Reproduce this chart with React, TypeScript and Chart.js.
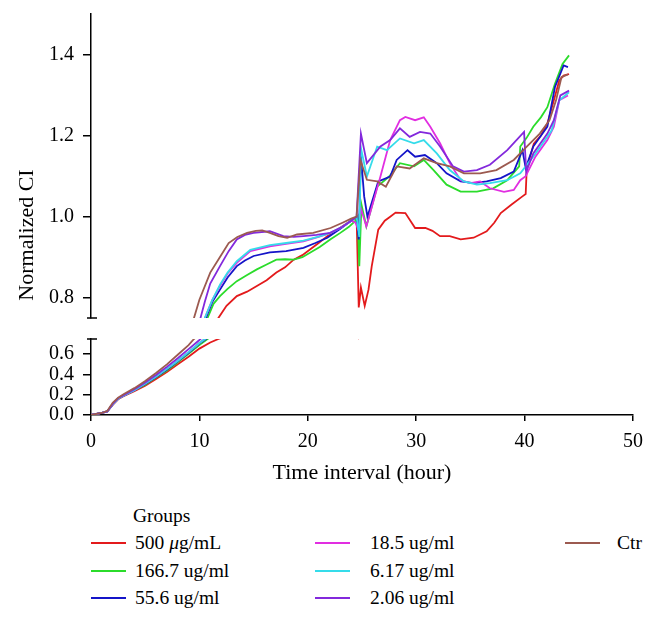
import React, { useEffect, useRef } from 'react';
import { Chart, registerables } from 'chart.js';

Chart.register(...registerables);

// ---- data (time in hours, normalized cell index) ----
const T_500 = [0, 0.5, 1, 1.5, 2, 2.5, 3, 4, 5, 6, 7, 8, 9, 10, 11, 11.75, 12.5, 13.45, 14.4, 15.3, 16.2, 17.1, 17.9, 18.7, 19.5, 20.2, 21, 21.8, 22.6, 23.3, 24, 24.5, 24.7, 24.9, 25.25, 25.6, 25.9, 26.5, 27.1, 27.6, 28.1, 29.0, 29.9, 30.85, 31.5, 32.2, 33.1, 34.1, 35.3, 36.5, 37.2, 37.8, 38.8, 39.8, 40.1, 40.2, 40.85, 41.5, 42.1, 42.7, 43.2, 43.6, 44.1];
const V_500 = [0, 0.01, 0.02, 0.035, 0.10, 0.155, 0.185, 0.235, 0.29, 0.355, 0.425, 0.50, 0.575, 0.655, 0.715, 0.75, 0.78, 0.804, 0.815, 0.829, 0.843, 0.862, 0.875, 0.894, 0.905, 0.919, 0.935, 0.952, 0.965, 0.978, 0.99, 1.0, 0.776, 0.825, 0.78, 0.82, 0.878, 0.968, 0.99, 1.0, 1.01, 1.009, 0.972, 0.972, 0.965, 0.952, 0.952, 0.944, 0.948, 0.964, 0.985, 1.009, 1.03, 1.05, 1.056, 1.12, 1.18, 1.20, 1.23, 1.287, 1.336, 1.348, 1.352];

const T_166 = [0, 0.5, 1, 1.5, 2, 2.5, 3, 4, 5, 6, 7, 8, 9, 10, 10.75, 11.3, 11.9, 12.6, 13.45, 14.4, 15.3, 16.2, 17.1, 17.9, 18.7, 19.5, 20.2, 21.1, 22.1, 23.0, 23.8, 24.4, 24.6, 24.75, 24.95, 25.4, 26.4, 27.5, 28.5, 29.8, 30.7, 31.6, 32.8, 34.1, 35.6, 37.1, 38.4, 39.5, 39.6, 40.2, 40.8, 41.5, 42.1, 42.8, 43.5, 44.1];
const V_166 = [0, 0.01, 0.02, 0.035, 0.105, 0.16, 0.19, 0.245, 0.30, 0.37, 0.44, 0.52, 0.605, 0.69, 0.75, 0.785, 0.804, 0.822, 0.841, 0.856, 0.87, 0.882, 0.894, 0.895, 0.894, 0.90, 0.911, 0.925, 0.944, 0.96, 0.975, 0.99, 1.0, 0.878, 1.03, 0.976, 1.074, 1.099, 1.132, 1.124, 1.14, 1.115, 1.079, 1.062, 1.062, 1.07, 1.09, 1.124, 1.173, 1.195, 1.222, 1.245, 1.27, 1.328, 1.377, 1.398];

const T_55 = [0, 0.5, 1, 1.5, 2, 2.5, 3, 4, 5, 6, 7, 8, 9, 10, 10.6, 11.2, 11.9, 12.6, 13.45, 14.2, 15, 16.5, 18, 19.6, 20.7, 21.8, 23, 24, 24.5, 24.7, 24.9, 25.2, 25.5, 26.5, 27.6, 28.2, 29.2, 29.9, 30.8, 31.9, 32.8, 34.1, 35.3, 36.5, 37.8, 39.0, 39.8, 40.1, 40.8, 42.1, 42.8, 43.6, 44.0];
const V_55 = [0, 0.01, 0.02, 0.035, 0.105, 0.16, 0.19, 0.245, 0.305, 0.375, 0.45, 0.53, 0.615, 0.705, 0.75, 0.79, 0.82, 0.85, 0.878, 0.892, 0.903, 0.912, 0.915, 0.923, 0.935, 0.948, 0.97, 0.99, 1.0, 0.944, 1.15, 1.05, 1.0, 1.087, 1.099, 1.14, 1.164, 1.148, 1.152, 1.132, 1.107, 1.087, 1.083, 1.087, 1.095, 1.111, 1.164, 1.12, 1.173, 1.222, 1.32, 1.373, 1.369];

const T_18 = [0, 0.5, 1, 1.5, 2, 2.5, 3, 4, 5, 6, 7, 8, 9, 10, 10.5, 11.2, 11.9, 12.6, 13.45, 14.7, 16.5, 18, 19.6, 21, 22.1, 23.2, 24, 24.4, 24.7, 24.9, 25.4, 26.7, 27.6, 28.5, 29.0, 29.9, 30.7, 31.3, 32.2, 33.1, 34.1, 35.0, 35.9, 36.8, 38.1, 39.0, 39.6, 40.1, 41.0, 42.1, 42.7, 43.2, 44.0];
const V_18 = [0, 0.01, 0.02, 0.035, 0.105, 0.16, 0.19, 0.245, 0.31, 0.38, 0.455, 0.535, 0.62, 0.71, 0.75, 0.795, 0.829, 0.86, 0.886, 0.915, 0.927, 0.933, 0.939, 0.95, 0.96, 0.975, 0.99, 0.985, 0.965, 1.02, 0.976, 1.099, 1.189, 1.238, 1.246, 1.238, 1.245, 1.222, 1.181, 1.132, 1.09, 1.083, 1.087, 1.07, 1.061, 1.066, 1.09, 1.10, 1.148, 1.189, 1.222, 1.287, 1.299];

const T_6 = [0, 0.5, 1, 1.5, 2, 2.5, 3, 4, 5, 6, 7, 8, 9, 10, 10.5, 11.2, 11.9, 12.6, 13.45, 14.7, 16.5, 18, 19.6, 21, 22.1, 23.2, 24, 24.5, 24.75, 24.9, 25.45, 26.4, 27.3, 28.5, 29.8, 30.7, 31.9, 33.1, 34.4, 35.6, 36.8, 38.4, 39.6, 40.8, 42.1, 42.5, 43.2, 44.1];
const V_6 = [0, 0.01, 0.02, 0.035, 0.105, 0.16, 0.19, 0.245, 0.31, 0.38, 0.455, 0.535, 0.62, 0.71, 0.75, 0.795, 0.832, 0.862, 0.89, 0.918, 0.93, 0.935, 0.941, 0.951, 0.96, 0.975, 0.99, 1.0, 0.95, 1.17, 1.099, 1.173, 1.164, 1.193, 1.181, 1.189, 1.156, 1.115, 1.087, 1.079, 1.083, 1.09, 1.107, 1.148, 1.197, 1.213, 1.287, 1.307];

const T_2 = [0, 0.5, 1, 1.5, 2, 2.5, 3, 4, 5, 6, 7, 8, 9, 10, 10.5, 11, 11.9, 12.7, 13.45, 14.2, 15, 16.5, 17.75, 18.7, 19.6, 20.8, 22.07, 23.2, 24, 24.5, 24.9, 25.45, 26.7, 27.6, 28.5, 29.4, 30.35, 31.3, 32.2, 33.4, 34.4, 35.6, 36.8, 38.4, 39.95, 40.15, 40.8, 42.1, 42.7, 43.3, 44.1];
const V_2 = [0, 0.01, 0.02, 0.035, 0.11, 0.165, 0.195, 0.255, 0.32, 0.395, 0.475, 0.56, 0.65, 0.74, 0.79, 0.835, 0.878, 0.915, 0.944, 0.955, 0.96, 0.964, 0.952, 0.95, 0.952, 0.955, 0.96, 0.975, 0.99, 1.0, 1.205, 1.132, 1.173, 1.189, 1.218, 1.197, 1.209, 1.205, 1.173, 1.124, 1.111, 1.115, 1.128, 1.164, 1.209, 1.111, 1.156, 1.205, 1.238, 1.299, 1.311];

const T_CTR = [0, 0.5, 1, 1.5, 2, 2.5, 3, 4, 5, 6, 7, 8, 9, 9.5, 10, 11, 12, 12.7, 13.5, 14.4, 15.2, 15.8, 16.5, 17.3, 18.1, 19, 20.5, 22.1, 23.2, 24, 24.5, 24.85, 25.45, 26.4, 27.2, 28.2, 29.4, 30.7, 31.9, 33.1, 34.4, 35.9, 37.4, 39.0, 40.2, 41.4, 42.3, 42.9, 43.4, 44.0];
const V_CTR = [0, 0.01, 0.02, 0.04, 0.12, 0.17, 0.205, 0.265, 0.335, 0.415, 0.50, 0.595, 0.69, 0.75, 0.795, 0.862, 0.905, 0.935, 0.95, 0.96, 0.965, 0.966, 0.96, 0.952, 0.948, 0.956, 0.96, 0.972, 0.985, 0.995, 1.0, 1.14, 1.091, 1.087, 1.074, 1.124, 1.119, 1.144, 1.132, 1.124, 1.107, 1.107, 1.115, 1.14, 1.173, 1.205, 1.238, 1.287, 1.344, 1.351];

const LABELS = ['500 μg/mL', '166.7 ug/ml', '55.6 ug/ml', '18.5 ug/ml', '6.17 ug/ml', '2.06 ug/ml', 'Ctr'];
const TIMES = [T_500, T_166, T_55, T_18, T_6, T_2, T_CTR];
const VALUES = [V_500, V_166, V_55, V_18, V_6, V_2, V_CTR];
const COLORS = ['#e31a1c', '#2bdc2b', '#1414c8', '#e12ee1', '#35dcea', '#8329dc', '#9c5a50'];

const X_TICKS = [0, 10, 20, 30, 40, 50];
const Y_TICKS_HIGH = [0.8, 1.0, 1.2, 1.4];
const Y_TICKS_LOW = [0.0, 0.2, 0.4, 0.6];

const FONT = "'Liberation Serif', 'DejaVu Serif', serif";

const clipPlugin = {
  id: 'axisClip',
  beforeDatasetDraw(chart: any, args: any) {
    const ys = chart.scales[args.meta.yAxisID];
    const a = chart.chartArea;
    const ctx = chart.ctx;
    ctx.save();
    ctx.beginPath();
    ctx.rect(a.left, ys.top, a.right - a.left, ys.bottom - ys.top);
    ctx.clip();
  },
  afterDatasetDraw(chart: any) {
    chart.ctx.restore();
  },
};

const capPlugin = {
  id: 'breakCaps',
  afterDraw(chart: any) {
    const ctx = chart.ctx;
    const x = chart.chartArea.left;
    const hi = chart.scales.yHigh;
    const lo = chart.scales.yLow;
    ctx.save();
    ctx.strokeStyle = '#000';
    ctx.lineWidth = 1.5;
    ctx.beginPath();
    ctx.moveTo(x - 4, hi.bottom);
    ctx.lineTo(x + 6, hi.bottom);
    ctx.moveTo(x - 4, lo.top);
    ctx.lineTo(x + 6, lo.top);
    ctx.stroke();
    ctx.restore();
  },
};

function yAxis(min: number, max: number, ticks: number[], weight: number, stackWeight: number) {
  return {
    type: 'linear',
    position: 'left',
    stack: 'ys',
    stackWeight,
    weight,
    min,
    max,
    afterBuildTicks: (s: any) => {
      s.ticks = ticks.map((v) => ({ value: v }));
    },
    afterFit: (s: any) => {
      s.width = 91;
      s.paddingTop = 0;
      s.paddingBottom = 0;
    },
    ticks: {
      font: { family: FONT, size: 20 },
      color: '#000',
      padding: 9,
      autoSkip: false,
      callback: (v: any) => Number(v).toFixed(1),
    },
    grid: { drawOnChartArea: false, drawTicks: true, tickLength: 8, color: '#000', lineWidth: 1.5 },
    border: { display: true, color: '#000', width: 1.5 },
  };
}

export default function App() {
  const ref = useRef<HTMLCanvasElement | null>(null);

  useEffect(() => {
    if (!ref.current) return;
    const datasets: any[] = [];
    LABELS.forEach((label, i) => {
      const n = Math.min(TIMES[i].length, VALUES[i].length);
      const pts = TIMES[i].slice(0, n).map((t, k) => ({ x: t, y: VALUES[i][k] }));
      ['yHigh', 'yLow'].forEach((axis) => {
        datasets.push({
          label,
          data: pts,
          yAxisID: axis,
          xAxisID: 'x',
          borderColor: COLORS[i],
          backgroundColor: COLORS[i],
          borderWidth: 1.8,
          pointRadius: 0,
          tension: 0,
          fill: false,
          order: 6 - i,
        });
      });
    });

    const chart = new Chart(ref.current, {
      type: 'line',
      data: { datasets },
      plugins: [clipPlugin, capPlugin],
      options: {
        responsive: false,
        animation: false,
        events: [],
        layout: { padding: { left: 0, right: 24, top: 14, bottom: 0 } },
        plugins: { legend: { display: false }, tooltip: { enabled: false } },
        scales: {
          x: {
            type: 'linear',
            min: 0,
            max: 50,
            afterBuildTicks: (s: any) => {
              s.ticks = X_TICKS.map((v) => ({ value: v }));
            },
            afterFit: (s: any) => {
              s.height = 85;
            },
            ticks: {
              font: { family: FONT, size: 20 },
              color: '#000',
              padding: 9,
              maxRotation: 0,
              autoSkip: false,
              callback: (v: any) => String(v),
            },
            grid: { drawOnChartArea: false, drawTicks: true, tickLength: 6, color: '#000', lineWidth: 1.5 },
            border: { display: true, color: '#000', width: 1.5 },
            title: {
              display: true,
              text: 'Time interval (hour)',
              font: { family: FONT, size: 22 },
              color: '#000',
              padding: { top: 0, bottom: 14 },
            },
          },
          yLow: yAxis(0, 0.75, Y_TICKS_LOW, 0, 76),
          yGap: {
            type: 'linear',
            position: 'left',
            stack: 'ys',
            stackWeight: 21,
            weight: 1,
            min: 0,
            max: 1,
            afterFit: (s: any) => {
              s.width = 0;
              s.paddingTop = 0;
              s.paddingBottom = 0;
            },
            ticks: { display: false },
            grid: { display: false, drawTicks: false },
            border: { display: false },
          },
          yHigh: yAxis(0.75, 1.5, Y_TICKS_HIGH, 2, 304),
        } as any,
      },
    } as any);
    return () => chart.destroy();
  }, []);

  const legendRow = [543, 571, 598];
  const cols = [
    { line: 91, text: 135 },
    { line: 315, text: 370 },
    { line: 565, text: 617 },
  ];
  const items = LABELS.map((label, i) => {
    const col = Math.floor(i / 3);
    const row = i % 3;
    return { label, color: COLORS[i], col, row };
  });

  return (
    <div style={{ position: 'absolute', left: 0, top: 0, width: 657, height: 624, fontFamily: FONT, color: '#000', background: '#fff' }}>
      <canvas ref={ref} width={657} height={500} style={{ position: 'absolute', left: 0, top: 0, width: 657, height: 500 }} />
      <div
        style={{
          position: 'absolute',
          left: 26 - 100,
          top: 235 - 11,
          width: 200,
          height: 22,
          lineHeight: '22px',
          fontSize: 22,
          textAlign: 'center',
          transform: 'rotate(-90deg)',
          whiteSpace: 'nowrap',
        }}
      >
        Normalized CI
      </div>
      <div style={{ position: 'absolute', left: 133, top: 516 - 10, fontSize: 19.5, lineHeight: '20px', whiteSpace: 'nowrap' }}>Groups</div>
      {items.map((it) => (
        <React.Fragment key={it.label}>
          <div
            style={{
              position: 'absolute',
              left: cols[it.col].line,
              top: legendRow[it.row] - 1,
              width: 35,
              height: 2,
              background: it.color,
            }}
          />
          <div
            style={{
              position: 'absolute',
              left: cols[it.col].text,
              top: legendRow[it.row] - 10,
              fontSize: 19.5,
              lineHeight: '20px',
              whiteSpace: 'nowrap',
            }}
          >
            {it.label === '500 μg/mL' ? (
              <span>
                500 <i>μ</i>g/mL
              </span>
            ) : (
              it.label
            )}
          </div>
        </React.Fragment>
      ))}
    </div>
  );
}
